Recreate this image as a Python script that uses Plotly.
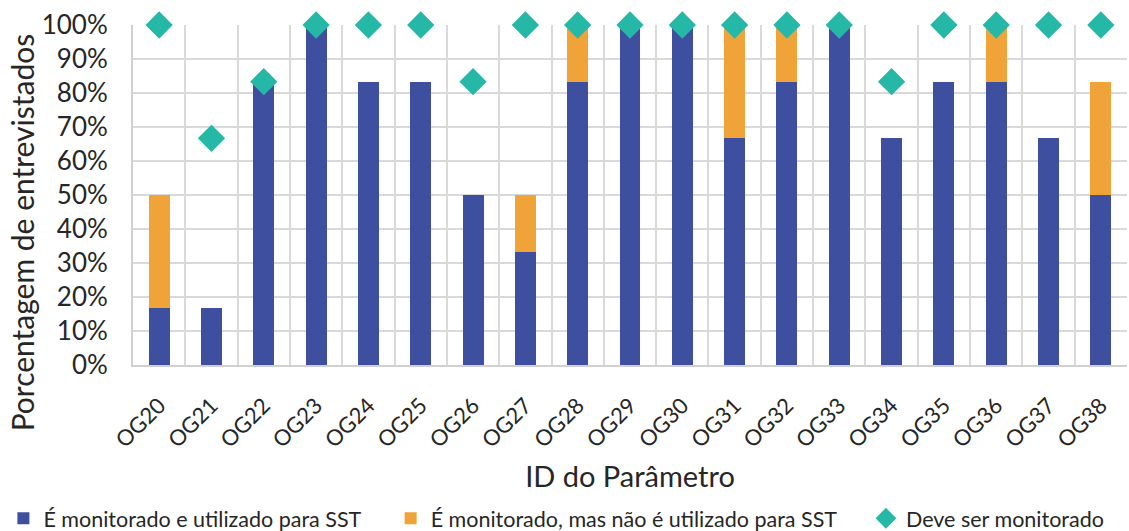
import plotly.graph_objects as go

categories = ["OG20", "OG21", "OG22", "OG23", "OG24", "OG25", "OG26", "OG27", "OG28", "OG29",
              "OG30", "OG31", "OG32", "OG33", "OG34", "OG35", "OG36", "OG37", "OG38"]

# shares of respondents (fractions of 1)
monitorado_utilizado = [1/6, 1/6, 5/6, 1, 5/6, 5/6, 3/6, 2/6, 5/6, 1,
                        1, 4/6, 5/6, 1, 4/6, 5/6, 5/6, 4/6, 3/6]
monitorado_nao_utilizado = [2/6, 0, 0, 0, 0, 0, 0, 1/6, 1/6, 0,
                            0, 2/6, 1/6, 0, 0, 0, 1/6, 0, 2/6]
deve_ser_monitorado = [1, 4/6, 5/6, 1, 1, 1, 5/6, 1, 1, 1,
                       1, 1, 1, 1, 5/6, 1, 1, 1, 1]

x = list(range(len(categories)))
FONT = "Lato, 'Open Sans', sans-serif"
TXT = "#262626"

fig = go.Figure()
fig.add_trace(go.Bar(
    x=x, y=monitorado_utilizado, name="É monitorado e utilizado para SST",
    marker=dict(color="#3F4FA0", line=dict(width=0)), width=0.4,
    legend="legend", showlegend=True))
fig.add_trace(go.Bar(
    x=x, y=monitorado_nao_utilizado, name="É monitorado, mas não é utilizado para SST",
    marker=dict(color="#F0A338", line=dict(width=0)), width=0.4,
    legend="legend2", showlegend=True))
fig.add_trace(go.Scatter(
    x=x, y=deve_ser_monitorado, name="Deve ser monitorado", mode="markers",
    marker=dict(symbol="diamond", size=21, color="#26B8A7"), cliponaxis=False,
    legend="legend3", showlegend=True))

legend_common = dict(orientation="h", xref="container", yref="container",
                     yanchor="middle", y=0.024, xanchor="left",
                     font=dict(family=FONT, size=21.5, color=TXT), bgcolor="rgba(0,0,0,0)")

fig.update_layout(
    barmode="stack",
    showlegend=True,
    width=1129, height=531,
    margin=dict(l=133, r=2, t=25, b=166, autoexpand=False),
    plot_bgcolor="white", paper_bgcolor="white",
    font=dict(family=FONT, color=TXT),
    legend=dict(x=0.003, **legend_common),
    legend2=dict(x=0.346, **legend_common),
    legend3=dict(x=0.767, **legend_common),
    xaxis=dict(
        range=[-0.5, len(categories) - 0.5], automargin=False,
        tickmode="array", tickvals=x, ticktext=categories, tickangle=-45,
        tickfont=dict(family=FONT, size=22, color=TXT),
        showgrid=False, showline=True, linecolor="#D0D0D0", linewidth=2,
        ticks="outside", ticklen=17, tickcolor="rgba(0,0,0,0)", zeroline=False,
        minor=dict(tick0=-0.5, dtick=1, showgrid=True, gridcolor="#D9D9D9", gridwidth=2),
        title=dict(text="ID do Parâmetro", font=dict(family=FONT, size=29, color=TXT)),
    ),
    yaxis=dict(
        range=[0, 1], tickmode="linear", tick0=0, dtick=0.1, tickformat=".0%",
        automargin=False,
        tickfont=dict(family=FONT, size=26, color=TXT),
        showgrid=True, gridcolor="#D9D9D9", gridwidth=2,
        showline=True, linecolor="#D0D0D0", linewidth=2, zeroline=False,
        ticks="outside", ticklen=18, tickcolor="rgba(0,0,0,0)",
    ),
    annotations=[dict(
        text="Porcentagem de entrevistados", textangle=-90,
        xref="paper", yref="paper", x=-0.1117, y=0.39,
        xanchor="center", yanchor="middle", showarrow=False,
        font=dict(family=FONT, size=30, color=TXT),
    )],
)

fig.write_html("out.html")
